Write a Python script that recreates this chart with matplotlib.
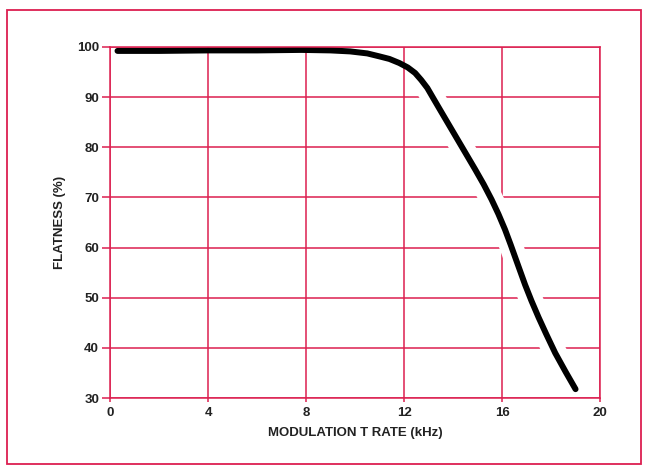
import matplotlib.pyplot as plt
import matplotlib.patches as mpatches

# curve
rate_khz = [0.3, 2, 4, 6, 7.8, 9.0, 9.8, 10.5, 11.0, 11.4, 11.8, 12.15, 12.45, 12.7,
            12.95, 13.2, 13.5, 13.85, 14.2, 14.55, 14.9, 15.25, 15.57, 15.85, 16.12,
            16.35, 16.6, 16.94, 17.2, 17.49, 17.8, 18.17, 18.6, 19.0]
flatness = [99.2, 99.2, 99.3, 99.3, 99.4, 99.3, 99.1, 98.7, 98.1, 97.6, 96.8, 95.9,
            94.8, 93.4, 91.8, 89.7, 87.2, 84.3, 81.4, 78.5, 75.6, 72.6, 69.6, 66.7,
            63.6, 60.6, 57.2, 52.6, 49.4, 46.1, 42.8, 39.0, 35.2, 31.8]

x_ticks = [0, 4, 8, 12, 16, 20]
y_ticks = [30, 40, 50, 60, 70, 80, 90, 100]

RED = "#dc1f50"
plt.rcParams["font.family"] = ["Liberation Sans", "DejaVu Sans"]

fig = plt.figure(figsize=(6.48, 4.69), dpi=100)
ax = fig.add_axes([0.170, 0.151, 0.756, 0.749])

# outer red frame
fig.patches.append(mpatches.Rectangle((0.011, 0.011), 0.978, 0.968, transform=fig.transFigure,
                                      fill=False, edgecolor=RED, linewidth=1.3))

ax.set_axisbelow(True)
ax.grid(True, color=RED, linewidth=1.1)

# white halo where the curve cuts the grid (steep part only)
steep = [i for i, v in enumerate(flatness) if v <= 93.5]
ax.plot([rate_khz[i] for i in steep], [flatness[i] for i in steep], color="white",
        linewidth=17, solid_capstyle="butt", zorder=1)
ax.plot(rate_khz, flatness, color="black", linewidth=4.3, solid_capstyle="round",
        solid_joinstyle="round", zorder=2)

ax.set_xlim(0, 20)
ax.set_ylim(30, 100)
ax.set_xticks(x_ticks)
ax.set_yticks(y_ticks)
for s in ax.spines.values():
    s.set_color(RED)
    s.set_linewidth(1.1)
ax.tick_params(axis="y", colors=RED, length=6, width=1.1, pad=2, labelcolor="#222222",
               labelsize=9.5)
ax.tick_params(axis="x", colors=RED, length=3, width=1.1, pad=3, labelcolor="#222222",
               labelsize=9.5)
for label in ax.get_xticklabels() + ax.get_yticklabels():
    label.set_fontweight("bold")

ax.set_xlabel("MODULATION T RATE (kHz)", fontsize=9.5, fontweight="semibold",
              color="#222222", labelpad=6)
ax.set_ylabel("FLATNESS (%)", fontsize=9.5, fontweight="semibold", color="#222222",
              labelpad=8)

fig.savefig("out.png", dpi=100, facecolor="white")
